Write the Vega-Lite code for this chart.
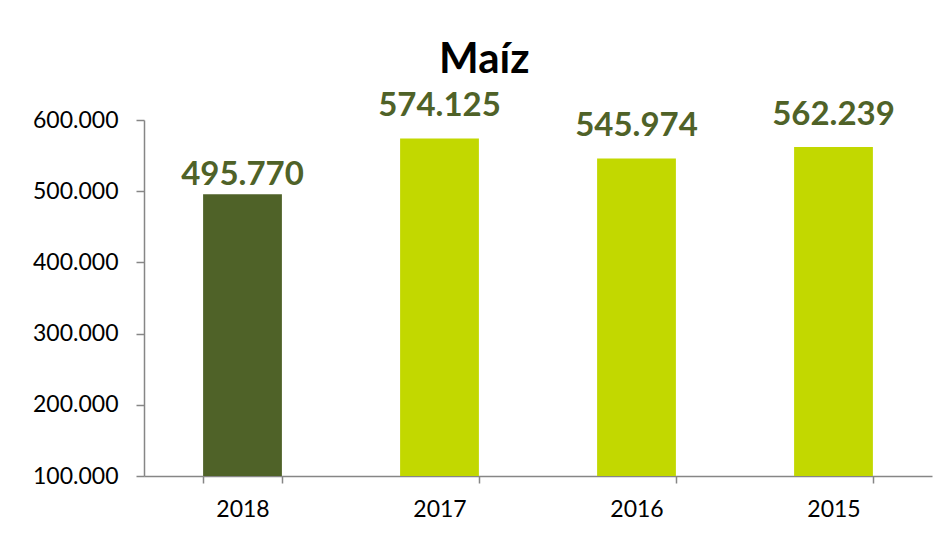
{
  "$schema": "https://vega.github.io/schema/vega-lite/v6.json",
  "autosize": "none",
  "width": 788,
  "height": 356,
  "padding": {"left": 144, "top": 120, "right": 20, "bottom": 63},
  "background": "white",
  "config": {
    "locale": {"number": {"decimal": ",", "thousands": ".", "grouping": [3], "currency": ["", " €"]}},
    "view": {"stroke": null},
    "font": "Lato"
  },
  "title": {
    "text": "Maíz",
    "font": "Lato",
    "fontSize": 42,
    "fontWeight": "bold",
    "color": "black",
    "anchor": "middle",
    "frame": "bounds",
    "offset": 8,
    "dx": 2
  },
  "data": {
    "values": [
      {"year": "2018", "value": 495770, "current": "yes"},
      {"year": "2017", "value": 574125, "current": "no"},
      {"year": "2016", "value": 545974, "current": "no"},
      {"year": "2015", "value": 562239, "current": "no"}
    ]
  },
  "encoding": {
    "x": {
      "field": "year",
      "type": "nominal",
      "sort": null,
      "scale": {"paddingInner": 0.6, "paddingOuter": 0.3},
      "axis": {
        "title": null,
        "labelAngle": 0,
        "labelFont": "Lato",
        "labelFontSize": 23,
        "labelColor": "black",
        "labelPadding": 15,
        "domainColor": "#868686",
        "domainWidth": 1.5,
        "tickColor": "#868686",
        "tickWidth": 1.5,
        "tickSize": 7,
        "tickBand": "extent"
      }
    }
  },
  "layer": [
    {
      "mark": {"type": "bar"},
      "encoding": {
        "y": {
          "field": "value",
          "type": "quantitative",
          "scale": {"domain": [100000, 600000], "zero": false, "nice": false},
          "axis": {
            "title": null,
            "values": [100000, 200000, 300000, 400000, 500000, 600000],
            "format": ",.0f",
            "grid": false,
            "labelFont": "Lato",
            "labelFontSize": 23,
            "labelColor": "black",
            "labelPadding": 18,
            "domainColor": "#868686",
            "domainWidth": 1.5,
            "tickColor": "#868686",
            "tickWidth": 1.5,
            "tickSize": 8
          }
        },
        "y2": {"datum": 100000},
        "color": {
          "field": "current",
          "type": "nominal",
          "scale": {"domain": ["yes", "no"], "range": ["#4F6228", "#C2D800"]},
          "legend": null
        }
      }
    },
    {
      "transform": [{"filter": "datum.current == 'yes'"}],
      "mark": {"type": "text", "baseline": "alphabetic", "dy": -9, "font": "Lato", "fontSize": 33, "fontWeight": "bold", "color": "#4F6228"},
      "encoding": {
        "y": {"field": "value", "type": "quantitative"},
        "text": {"field": "value", "type": "quantitative", "format": ",.0f"}
      }
    },
    {
      "transform": [{"filter": "datum.current == 'no'"}],
      "mark": {"type": "text", "baseline": "alphabetic", "dy": -22, "font": "Lato", "fontSize": 33, "fontWeight": "bold", "color": "#4F6228"},
      "encoding": {
        "y": {"field": "value", "type": "quantitative"},
        "text": {"field": "value", "type": "quantitative", "format": ",.0f"}
      }
    }
  ]
}
